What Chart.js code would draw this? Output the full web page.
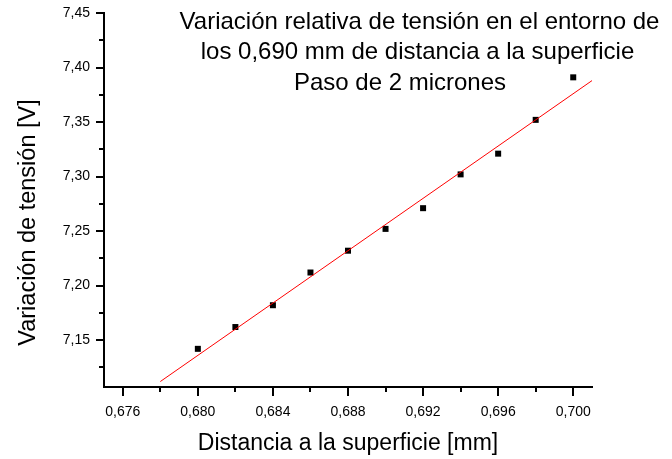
<!DOCTYPE html>
<html>
<head>
<meta charset="utf-8">
<script src="https://cdn.jsdelivr.net/npm/chart.js@4/dist/chart.umd.min.js"></script>
<style>
  html, body { margin: 0; padding: 0; background: #fff; }
  canvas { display: block; }
</style>
</head>
<body>
<canvas id="c" width="672" height="459"></canvas>
<script>
// Measured distance to the surface [mm] and tension [V]
const distanceMm = [0.680, 0.682, 0.684, 0.686, 0.688, 0.690, 0.692, 0.694, 0.696, 0.698, 0.700];
const tensionV   = [7.142, 7.162, 7.182, 7.212, 7.232, 7.252, 7.271, 7.302, 7.321, 7.352, 7.391];

// Linear fit endpoints
const fitDistance = [0.678, 0.701];
const fitTension  = [7.112, 7.388];

// Axis ticks
const xMajorTicks  = [0.676, 0.680, 0.684, 0.688, 0.692, 0.696, 0.700];
const xTickLabels  = ['0,676', '0,680', '0,684', '0,688', '0,692', '0,696', '0,700'];
const xMinorTicks  = [0.678, 0.682, 0.686, 0.690, 0.694, 0.698];
const yMajorTicks  = [7.15, 7.20, 7.25, 7.30, 7.35, 7.40, 7.45];
const yTickLabels  = ['7,15', '7,20', '7,25', '7,30', '7,35', '7,40', '7,45'];
const yMinorTicks  = [7.125, 7.175, 7.225, 7.275, 7.325, 7.375, 7.425];

const titleLines = [
  'Variación relativa de tensión en el entorno de',
  'los 0,690 mm de distancia a la superficie',
  'Paso de 2 micrones'
];
const xAxisTitle = 'Distancia a la superficie [mm]';
const yAxisTitle = 'Variación de tensión [V]';

const FONT = '"Liberation Sans", Arial, Helvetica, sans-serif';

// Tick marks (major and minor) drawn outside the axes
const tickMarks = {
  id: 'tickMarks',
  afterDraw(chart) {
    const { ctx, chartArea, scales } = chart;
    ctx.save();
    ctx.strokeStyle = '#000';
    ctx.lineWidth = 2;
    ctx.beginPath();
    const xs = scales.x, ys = scales.y;
    xMajorTicks.forEach(v => { const p = Math.round(xs.getPixelForValue(v)); ctx.moveTo(p, chartArea.bottom); ctx.lineTo(p, chartArea.bottom + 9); });
    xMinorTicks.forEach(v => { const p = Math.round(xs.getPixelForValue(v)); ctx.moveTo(p, chartArea.bottom); ctx.lineTo(p, chartArea.bottom + 5); });
    yMajorTicks.forEach(v => { const p = Math.round(ys.getPixelForValue(v)); ctx.moveTo(chartArea.left, p); ctx.lineTo(chartArea.left - 8, p); });
    yMinorTicks.forEach(v => { const p = Math.round(ys.getPixelForValue(v)); ctx.moveTo(chartArea.left, p); ctx.lineTo(chartArea.left - 5, p); });
    ctx.stroke();
    ctx.restore();
  }
};

// Title block inside the plot and the two axis titles
const textBlocks = {
  id: 'textBlocks',
  afterDraw(chart) {
    const { ctx, chartArea } = chart;
    ctx.save();
    ctx.fillStyle = '#000';
    ctx.textAlign = 'center';
    ctx.textBaseline = 'alphabetic';
    ctx.font = '24px ' + FONT;
    const centers = [419.5, 417.5, 400];
    const baselines = [28.5, 58.5, 89.5];
    titleLines.forEach((t, i) => ctx.fillText(t, centers[i], baselines[i]));

    ctx.font = '23px ' + FONT;
    ctx.fillText(xAxisTitle, (chartArea.left + chartArea.right) / 2, 450);

    ctx.font = '23.5px ' + FONT;
    ctx.translate(35, 222.5);
    ctx.rotate(-Math.PI / 2);
    ctx.fillText(yAxisTitle, 0, 0);
    ctx.restore();
  }
};

new Chart(document.getElementById('c'), {
  type: 'scatter',
  data: {
    datasets: [
      {
        label: 'Tensión',
        data: distanceMm.map((x, i) => ({ x, y: tensionV[i] })),
        pointStyle: 'rect',
        pointRadius: 4.24,
        pointHoverRadius: 4.24,
        backgroundColor: '#000',
        borderWidth: 0,
        order: 2
      },
      {
        label: 'Ajuste lineal',
        type: 'line',
        data: fitDistance.map((x, i) => ({ x, y: fitTension[i] })),
        borderColor: '#ff0000',
        borderWidth: 1,
        pointRadius: 0,
        fill: false,
        order: 1
      }
    ]
  },
  options: {
    responsive: false,
    animation: false,
    devicePixelRatio: 1,
    layout: { padding: { top: 13, right: 80, left: 0, bottom: 0 } },
    plugins: {
      legend: { display: false },
      tooltip: { enabled: false },
      title: { display: false }
    },
    scales: {
      x: {
        type: 'linear',
        min: 0.675,
        max: 0.701,
        afterBuildTicks: s => { s.ticks = xMajorTicks.map(v => ({ value: v })); },
        afterFit: s => { s.height = 72; s.paddingLeft = 0; s.paddingRight = 0; },
        grid: { display: true, drawOnChartArea: false, drawTicks: false },
        border: { display: true, color: '#000', width: 2 },
        ticks: {
          padding: 17,
          color: '#000',
          maxRotation: 0,
          autoSkip: false,
          font: { family: FONT, size: 14 },
          callback: (v, i) => xTickLabels[i]
        }
      },
      y: {
        type: 'linear',
        min: 7.107,
        max: 7.45,
        afterBuildTicks: s => { s.ticks = yMajorTicks.map(v => ({ value: v })); },
        afterFit: s => { s.width = 104; s.paddingTop = 0; s.paddingBottom = 0; },
        grid: { display: true, drawOnChartArea: false, drawTicks: false },
        border: { display: true, color: '#000', width: 2 },
        ticks: {
          padding: 14,
          color: '#000',
          autoSkip: false,
          font: { family: FONT, size: 14 },
          callback: (v, i) => yTickLabels[i]
        }
      }
    }
  },
  plugins: [tickMarks, textBlocks]
});
</script>
</body>
</html>
